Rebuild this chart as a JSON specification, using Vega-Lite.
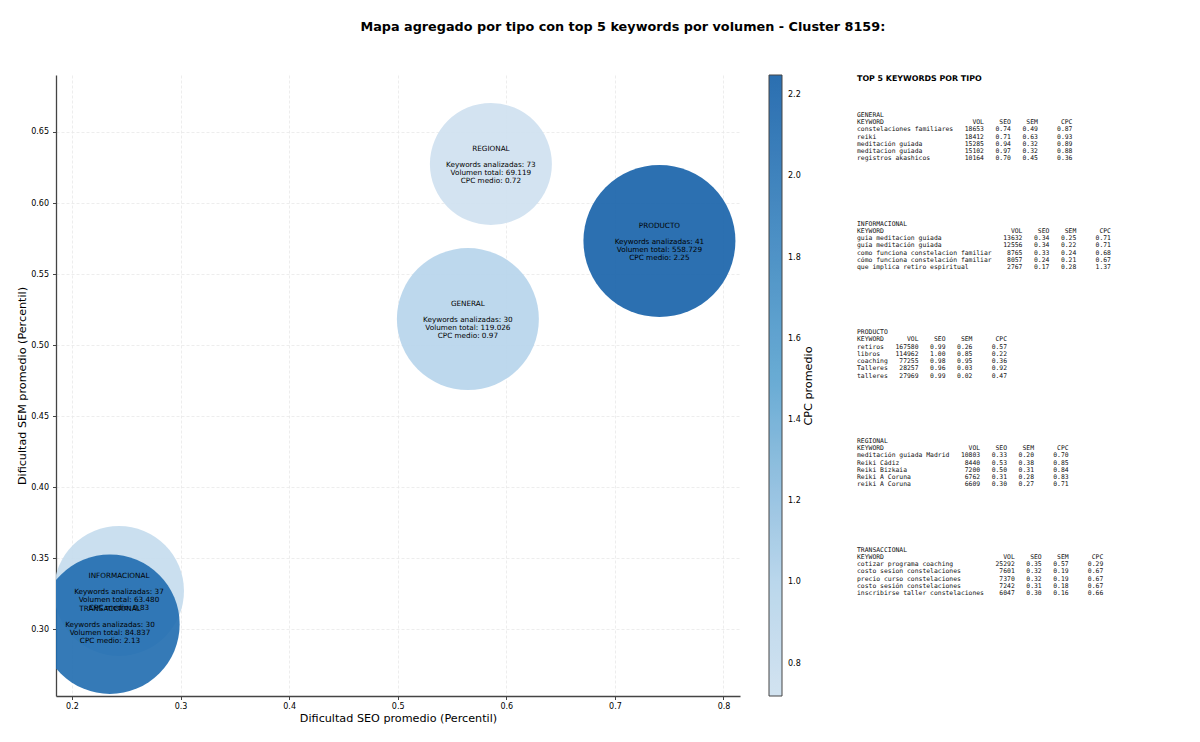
{
  "$schema": "https://vega.github.io/schema/vega-lite/v6.json",
  "background": "white",
  "padding": {"left": 16, "top": 20, "right": 0, "bottom": 5},
  "title": {
    "text": "Mapa agregado por tipo con top 5 keywords por volumen - Cluster 8159:",
    "font": "DejaVu Sans", "fontSize": 12.8, "fontWeight": "bold", "color": "black",
    "anchor": "middle", "offset": 41, "dx": 46
  },
  "config": {"view": {"stroke": null}, "font": "DejaVu Sans"},
  "resolve": {"legend": {"color": "independent"}},
  "hconcat": [
    {
      "width": 684,
      "height": 621,
      "data": {"values": [
        {"tipo": "GENERAL", "seo": 0.5646, "sem": 0.5184, "cpc": 0.97, "burbuja": 20164, "detalle": "Keywords analizadas: 30\nVolumen total: 119.026\nCPC medio: 0.97"},
        {"tipo": "INFORMACIONAL", "seo": 0.2433, "sem": 0.3271, "cpc": 0.83, "burbuja": 16900, "detalle": "Keywords analizadas: 37\nVolumen total: 63.480\nCPC medio: 0.83"},
        {"tipo": "PRODUCTO", "seo": 0.741, "sem": 0.5733, "cpc": 2.25, "burbuja": 23104, "detalle": "Keywords analizadas: 41\nVolumen total: 558.729\nCPC medio: 2.25"},
        {"tipo": "REGIONAL", "seo": 0.5858, "sem": 0.6275, "cpc": 0.72, "burbuja": 14884, "detalle": "Keywords analizadas: 73\nVolumen total: 69.119\nCPC medio: 0.72"},
        {"tipo": "TRANSACCIONAL", "seo": 0.235, "sem": 0.3037, "cpc": 2.13, "burbuja": 19432, "detalle": "Keywords analizadas: 30\nVolumen total: 84.837\nCPC medio: 2.13"}
      ]},
      "encoding": {
        "x": {
          "field": "seo", "type": "quantitative",
          "scale": {"domain": [0.1853, 0.8152], "nice": false, "zero": false},
          "axis": {
            "title": "Dificultad SEO promedio (Percentil)", "titleFontSize": 11.2, "titleFontWeight": "normal", "titleColor": "black", "titlePadding": 2,
            "values": [0.2, 0.3, 0.4, 0.5, 0.6, 0.7, 0.8], "format": ".1f",
            "labelFontSize": 8, "labelColor": "black", "labelPadding": 3,
            "domainColor": "#444444", "domainWidth": 1.3, "tickColor": "#444444", "tickSize": 3.5,
            "grid": true, "gridColor": "#e8e8e8", "gridDash": [3, 2], "gridWidth": 0.8
          }
        },
        "y": {
          "field": "sem", "type": "quantitative",
          "scale": {"domain": [0.2532, 0.6901], "nice": false, "zero": false},
          "axis": {
            "title": "Dificultad SEM promedio (Percentil)", "titleFontSize": 11.2, "titleFontWeight": "normal", "titleColor": "black", "titlePadding": 3,
            "values": [0.3, 0.35, 0.4, 0.45, 0.5, 0.55, 0.6, 0.65], "format": ".2f",
            "labelFontSize": 8, "labelColor": "black", "labelPadding": 4,
            "domainColor": "#444444", "domainWidth": 1.3, "tickColor": "#444444", "tickSize": 3.5,
            "grid": true, "gridColor": "#e8e8e8", "gridDash": [3, 2], "gridWidth": 0.8
          }
        }
      },
      "layer": [
        {
          "mark": {"type": "point", "shape": "circle", "filled": true, "opacity": 0.9, "clip": true},
          "encoding": {
            "size": {"field": "burbuja", "type": "quantitative", "scale": null, "legend": null},
            "color": {
              "field": "cpc", "type": "quantitative",
              "scale": {"domain": [0.72, 1.0, 1.485, 2.25], "range": ["#cee0ef", "#b3d3ea", "#5ba4d1", "#1560a8"]},
              "legend": {
                "title": "CPC promedio", "titleOrient": "right", "titleFontSize": 11.2, "titleFontWeight": "normal", "titleColor": "black",
                "titleAnchor": "middle", "titleAlign": "center", "titleBaseline": "bottom", "titlePadding": 13,
                "encode": {"title": {"update": {"angle": {"value": 270}}}},
                "gradientLength": 621, "gradientThickness": 13, "gradientStrokeColor": "#333333", "gradientStrokeWidth": 1, "gradientOpacity": 0.9,
                "values": [0.8, 1.0, 1.2, 1.4, 1.6, 1.8, 2.0, 2.2], "format": ".1f",
                "labelFontSize": 8, "labelColor": "black", "labelOffset": 6, "offset": 29
              }
            }
          }
        },
        {
          "mark": {"type": "text", "align": "center", "baseline": "middle", "fontSize": 7.25, "color": "black", "dy": -15},
          "encoding": {"text": {"field": "tipo", "type": "nominal"}}
        },
        {
          "mark": {"type": "text", "align": "center", "baseline": "middle", "lineBreak": "\n", "lineHeight": 8, "fontSize": 7.25, "color": "black", "dy": 1},
          "encoding": {"text": {"field": "detalle", "type": "nominal"}}
        }
      ]
    },
    {
      "width": 280,
      "height": 621,
      "encoding": {
        "x": {"field": "columna", "type": "quantitative", "scale": {"domain": [0, 280], "nice": false, "zero": false}, "axis": null},
        "y": {"field": "linea", "type": "quantitative", "scale": {"domain": [85.2, -0.5], "nice": false, "zero": false}, "axis": null}
      },
      "layer": [
        {
          "data": {"values": [{"texto": "TOP 5 KEYWORDS POR TIPO", "columna": 0, "linea": 0}]},
          "mark": {"type": "text", "align": "left", "baseline": "middle", "font": "DejaVu Sans", "fontWeight": "bold", "fontSize": 7.9, "color": "black"},
          "encoding": {"text": {"field": "texto", "type": "nominal"}}
        },
        {
          "data": {"values": [
            {"texto": "GENERAL", "columna": 0, "linea": 5},
            {"texto": "KEYWORD                       VOL    SEO    SEM      CPC", "columna": 0, "linea": 6},
            {"texto": "constelaciones familiares   18653   0.74   0.49     0.87", "columna": 0, "linea": 7},
            {"texto": "reiki                       18412   0.71   0.63     0.93", "columna": 0, "linea": 8},
            {"texto": "meditación guiada           15285   0.94   0.32     0.89", "columna": 0, "linea": 9},
            {"texto": "meditacion guiada           15102   0.97   0.32     0.88", "columna": 0, "linea": 10},
            {"texto": "registros akashicos         10164   0.70   0.45     0.36", "columna": 0, "linea": 11},
            {"texto": "INFORMACIONAL", "columna": 0, "linea": 20},
            {"texto": "KEYWORD                                 VOL    SEO    SEM      CPC", "columna": 0, "linea": 21},
            {"texto": "guia meditacion guiada                13632   0.34   0.25     0.71", "columna": 0, "linea": 22},
            {"texto": "guía meditación guiada                12556   0.34   0.22     0.71", "columna": 0, "linea": 23},
            {"texto": "como funciona constelacion familiar    8765   0.33   0.24     0.68", "columna": 0, "linea": 24},
            {"texto": "cómo funciona constelación familiar    8057   0.24   0.21     0.67", "columna": 0, "linea": 25},
            {"texto": "que implica retiro espiritual          2767   0.17   0.28     1.37", "columna": 0, "linea": 26},
            {"texto": "PRODUCTO", "columna": 0, "linea": 35},
            {"texto": "KEYWORD      VOL    SEO    SEM      CPC", "columna": 0, "linea": 36},
            {"texto": "retiros   167580   0.99   0.26     0.57", "columna": 0, "linea": 37},
            {"texto": "libros    114962   1.00   0.85     0.22", "columna": 0, "linea": 38},
            {"texto": "coaching   77255   0.98   0.95     0.36", "columna": 0, "linea": 39},
            {"texto": "Talleres   28257   0.96   0.03     0.92", "columna": 0, "linea": 40},
            {"texto": "talleres   27969   0.99   0.02     0.47", "columna": 0, "linea": 41},
            {"texto": "REGIONAL", "columna": 0, "linea": 50},
            {"texto": "KEYWORD                      VOL    SEO    SEM      CPC", "columna": 0, "linea": 51},
            {"texto": "meditación guiada Madrid   10803   0.33   0.20     0.70", "columna": 0, "linea": 52},
            {"texto": "Reiki Cádiz                 8440   0.53   0.38     0.85", "columna": 0, "linea": 53},
            {"texto": "Reiki Bizkaia               7200   0.50   0.31     0.84", "columna": 0, "linea": 54},
            {"texto": "Reiki A Coruna              6762   0.31   0.28     0.83", "columna": 0, "linea": 55},
            {"texto": "reiki A Coruna              6609   0.30   0.27     0.71", "columna": 0, "linea": 56},
            {"texto": "TRANSACCIONAL", "columna": 0, "linea": 65},
            {"texto": "KEYWORD                               VOL    SEO    SEM      CPC", "columna": 0, "linea": 66},
            {"texto": "cotizar programa coaching           25292   0.35   0.57     0.29", "columna": 0, "linea": 67},
            {"texto": "costo sesion constelaciones          7601   0.32   0.19     0.67", "columna": 0, "linea": 68},
            {"texto": "precio curso constelaciones          7370   0.32   0.19     0.67", "columna": 0, "linea": 69},
            {"texto": "costo sesión constelaciones          7242   0.31   0.18     0.67", "columna": 0, "linea": 70},
            {"texto": "inscribirse taller constelaciones    6047   0.30   0.16     0.66", "columna": 0, "linea": 71}
          ]},
          "transform": [{"calculate": "replace(datum.texto, / /g, '\u00a0')", "as": "texto_fijo"}],
          "mark": {"type": "text", "align": "left", "baseline": "middle", "font": "DejaVu Sans Mono", "fontSize": 6.4, "color": "#111111"},
          "encoding": {"text": {"field": "texto_fijo", "type": "nominal"}}
        }
      ]
    }
  ],
  "spacing": 42
}
